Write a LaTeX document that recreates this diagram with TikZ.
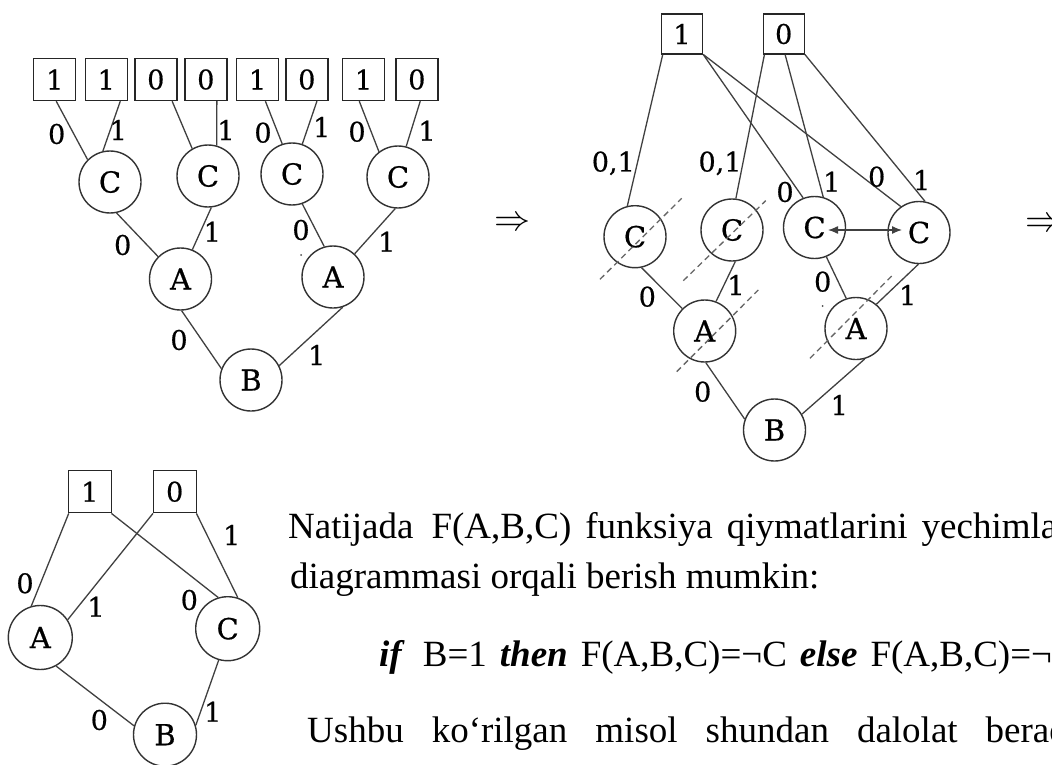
\documentclass[tikz,border=0pt]{standalone}
\usepackage{fontspec}
\setmainfont{Liberation Serif}
\newfontfamily\dfont[FakeBold=0.6]{DejaVu Serif}
\usetikzlibrary{arrows.meta,calc}
\tikzset{
  vtx/.style={circle,draw=black!80,line width=1.4pt,minimum size=62pt,inner sep=0pt,
    font=\dfont\fontsize{29}{29}\selectfont},
  bigvtx/.style={vtx,minimum size=64pt},
  leaf/.style={rectangle,draw=black!85,line width=1.4pt,minimum width=42pt,minimum height=42pt,
    inner sep=0pt,font=\dfont\fontsize{27}{27}\selectfont},
  edge/.style={draw=black!75,line width=1.3pt},
  lbl/.style={inner sep=0pt,font=\dfont\fontsize{27}{27}\selectfont},
  cut/.style={draw=black!60,line width=1.3pt,dash pattern=on 6pt off 4pt},
  txt/.style={inner sep=0pt,anchor=base west,font=\fontsize{37}{37}\selectfont},
  imp/.style={inner sep=0pt},
  speck/.style={fill=black!70,inner sep=0pt,minimum size=2pt,circle}
}
\begin{document}
\begin{tikzpicture}[x=1pt,y=-1pt]
\useasboundingbox (0,0) rectangle (1052,765);
\clip (0,0) rectangle (1052,765);
\fill[white] (0,0) rectangle (1052,765);

% ---------- left tree ----------
\node[leaf] (b1) at (54.7,79.5) {1};
\node[leaf] (b2) at (106.2,79.5) {1};
\node[leaf] (b3) at (155.8,79.5) {0};
\node[leaf] (b4) at (205.8,79.5) {0};
\node[leaf] (b5) at (257.5,79.5) {1};
\node[leaf] (b6) at (306.8,79.5) {0};
\node[leaf] (b7) at (363.5,79.5) {1};
\node[leaf] (b8) at (416.8,79.5) {0};
\node[vtx] (c1) at (110,182) {C};
\node[vtx] (c2) at (208,176) {C};
\node[vtx] (c3) at (292,174) {C};
\node[vtx] (c4) at (398,177) {C};
\node[vtx] (a1) at (180.5,279) {A};
\node[vtx] (a2) at (333,277) {A};
\node[vtx] (bb) at (251,380) {B};

\draw[edge] (b1.-86) -- (c1.135);
\draw[edge] (b2.-57) -- (c1.103);
\draw[edge] (b3.-53) -- (c2.120);
\draw[edge] (b4.-63) -- (c2.74);
\draw[edge] (b5.-70) -- (c3.108);
\draw[edge] (b6.-65) -- (c3.71);
\draw[edge] (b7.-101) -- (c4.127);
\draw[edge] (b8.-81) -- (c4.75);
\draw[edge] (c1.-78) -- (a1.135);
\draw[edge] (c2.-84) -- (a1.68);
\draw[edge] (c3.-71) -- (a2.106);
\draw[edge] (c4.-95) -- (a2.47);
\draw[edge] (a1.-88) -- (bb.159);
\draw[edge] (a2.-72) -- (bb.27);

\node[lbl] (l1) at (56.7,134) {0};
\node[lbl] (l2) at (118.3,130) {1};
\node[lbl] (l3) at (226,130) {1};
\node[lbl] (l4) at (263,132.7) {0};
\node[lbl] (l5) at (321.7,127) {1};
\node[lbl] (l6) at (357,131.7) {0};
\node[lbl] (l7) at (427,130.7) {1};
\node[lbl] (l8) at (122.7,245) {0};
\node[lbl] (l9) at (212.3,231.7) {1};
\node[lbl] (l10) at (301,230) {0};
\node[lbl] (l11) at (386.7,241.7) {1};
\node[lbl] (l12) at (179,340) {0};
\node[lbl] (l13) at (316.7,355) {1};
\node[speck] (s1) at (301,255) {};

\node[imp] (imp1) at (512.5,223.5) {\scalebox{3.6}{$\Rightarrow$}};

% ---------- middle diagram ----------
\node[leaf,minimum width=41pt,minimum height=40pt] (t1) at (682,34) {1};
\node[leaf,minimum width=41pt,minimum height=40pt] (t0) at (783.7,34) {0};
\node[vtx] (mc1) at (635,236.7) {C};
\node[vtx] (mc2) at (732,230) {C};
\node[vtx] (mc3) at (814.5,227.5) {C};
\node[vtx] (mc4) at (919,232.5) {C};
\node[vtx] (ma1) at (704.7,331) {A};
\node[vtx] (ma2) at (856,328.5) {A};
\node[vtx] (mb) at (774.5,430) {B};

\draw[edge] (t1.-133) -- (mc1.104);
\draw[edge] (t1.-44) -- (mc3.111);
\draw[edge] (t1.-44) -- (mc4.125);
\draw[edge] (t0.-133) -- (mc2.83);
\draw[edge] (t0.-86) -- (mc3.74);
\draw[edge] (t0.-44) -- (mc4.79);
\draw[edge] (mc1.-78) -- (ma1.135);
\draw[edge] (mc2.-84) -- (ma1.69);
\draw[edge] (mc3.-68) -- (ma2.108);
\draw[edge] (mc4.-91) -- (ma2.50);
\draw[edge] (ma1.-88) -- (mb.160);
\draw[edge] (ma2.-74) -- (mb.30);
\draw[edge,{Latex[length=10pt,width=8pt]}-{Latex[length=10pt,width=8pt]}]
  ($(mc3.center)+(13.5,2.5)$) -- ($(mc4.center)+(-17,-2.5)$);

\coordinate (d1a) at (600,279.3);   \coordinate (d1b) at (681.7,198.3);
\coordinate (d2a) at (683.3,280.7); \coordinate (d2b) at (765.7,200.7);
\coordinate (d3a) at (676.7,371.7); \coordinate (d3b) at (758.3,290);
\coordinate (d4a) at (810,358.3);   \coordinate (d4b) at (891.7,276);
\draw[cut] (d1a) -- (d1b);
\draw[cut] (d2a) -- (d2b);
\draw[cut] (d3a) -- (d3b);
\draw[cut] (d4a) -- (d4b);

\node[lbl] (m1) at (613.3,163.3) {0,1};
\node[lbl] (m2) at (720,163.3) {0,1};
\node[lbl] (m3) at (785,192) {0};
\node[lbl] (m4) at (831.7,181.7) {1};
\node[lbl] (m5) at (876.7,176.7) {0};
\node[lbl] (m6) at (921.7,180) {1};
\node[lbl] (m7) at (647.3,296.7) {0};
\node[lbl] (m8) at (736,285) {1};
\node[lbl] (m9) at (822.7,281.7) {0};
\node[lbl] (m10) at (907.7,295) {1};
\node[lbl] (m11) at (702.7,391.7) {0};
\node[lbl] (m12) at (839.3,405) {1};
\node[speck] (s2) at (822.7,306) {};

\node[imp,anchor=west] (imp2) at (1025,224.5) {\scalebox{3.6}{$\Rightarrow$}};

% ---------- bottom-left diagram ----------
\node[leaf,minimum width=43pt] (u1) at (89.7,491.7) {1};
\node[leaf,minimum width=43pt] (u0) at (174.7,491.7) {0};
\node[bigvtx] (la) at (40.3,637.5) {A};
\node[bigvtx] (lc) at (227.7,628.7) {C};
\node[vtx,minimum size=63pt] (lb) at (165,734.7) {B};

\draw[edge] (u1.-134) -- (la.106);
\draw[edge] (u1.-45) -- (lc.107);
\draw[edge] (u0.-135) -- (la.33);
\draw[edge] (u0.-45) -- (lc.72);
\draw[edge] (la.-61) -- (lb.164);
\draw[edge] (lc.-106) -- (lb.17);

\node[lbl] (n1) at (25,583.3) {0};
\node[lbl] (n2) at (189.3,600) {0};
\node[lbl] (n3) at (96,606.7) {1};
\node[lbl] (n4) at (231.7,535) {1};
\node[lbl] (n5) at (99.3,720) {0};
\node[lbl] (n6) at (212.7,711.7) {1};

% ---------- text ----------
\node[txt] (x1) at (288,538.3) {\spaceskip=14pt\relax Natijada\hspace{18pt}F(A,B,C) funksiya qiymatlarini yechimla};
\node[txt] (x2) at (290,588.3) {diagrammasi orqali berish mumkin:};
\node[txt] (x3) at (379,666.7) {\spaceskip=13pt\relax\textbf{\textit{if}}\hspace{18pt}B=1 \textbf{\textit{then}} F(A,B,C)=¬C \textbf{\textit{else}} F(A,B,C)=¬};
\node[txt] (x4) at (307,742.7) {\spaceskip=28pt\relax Ushbu ko‘rilgan misol shundan dalolat berad};
\end{tikzpicture}
\end{document}
